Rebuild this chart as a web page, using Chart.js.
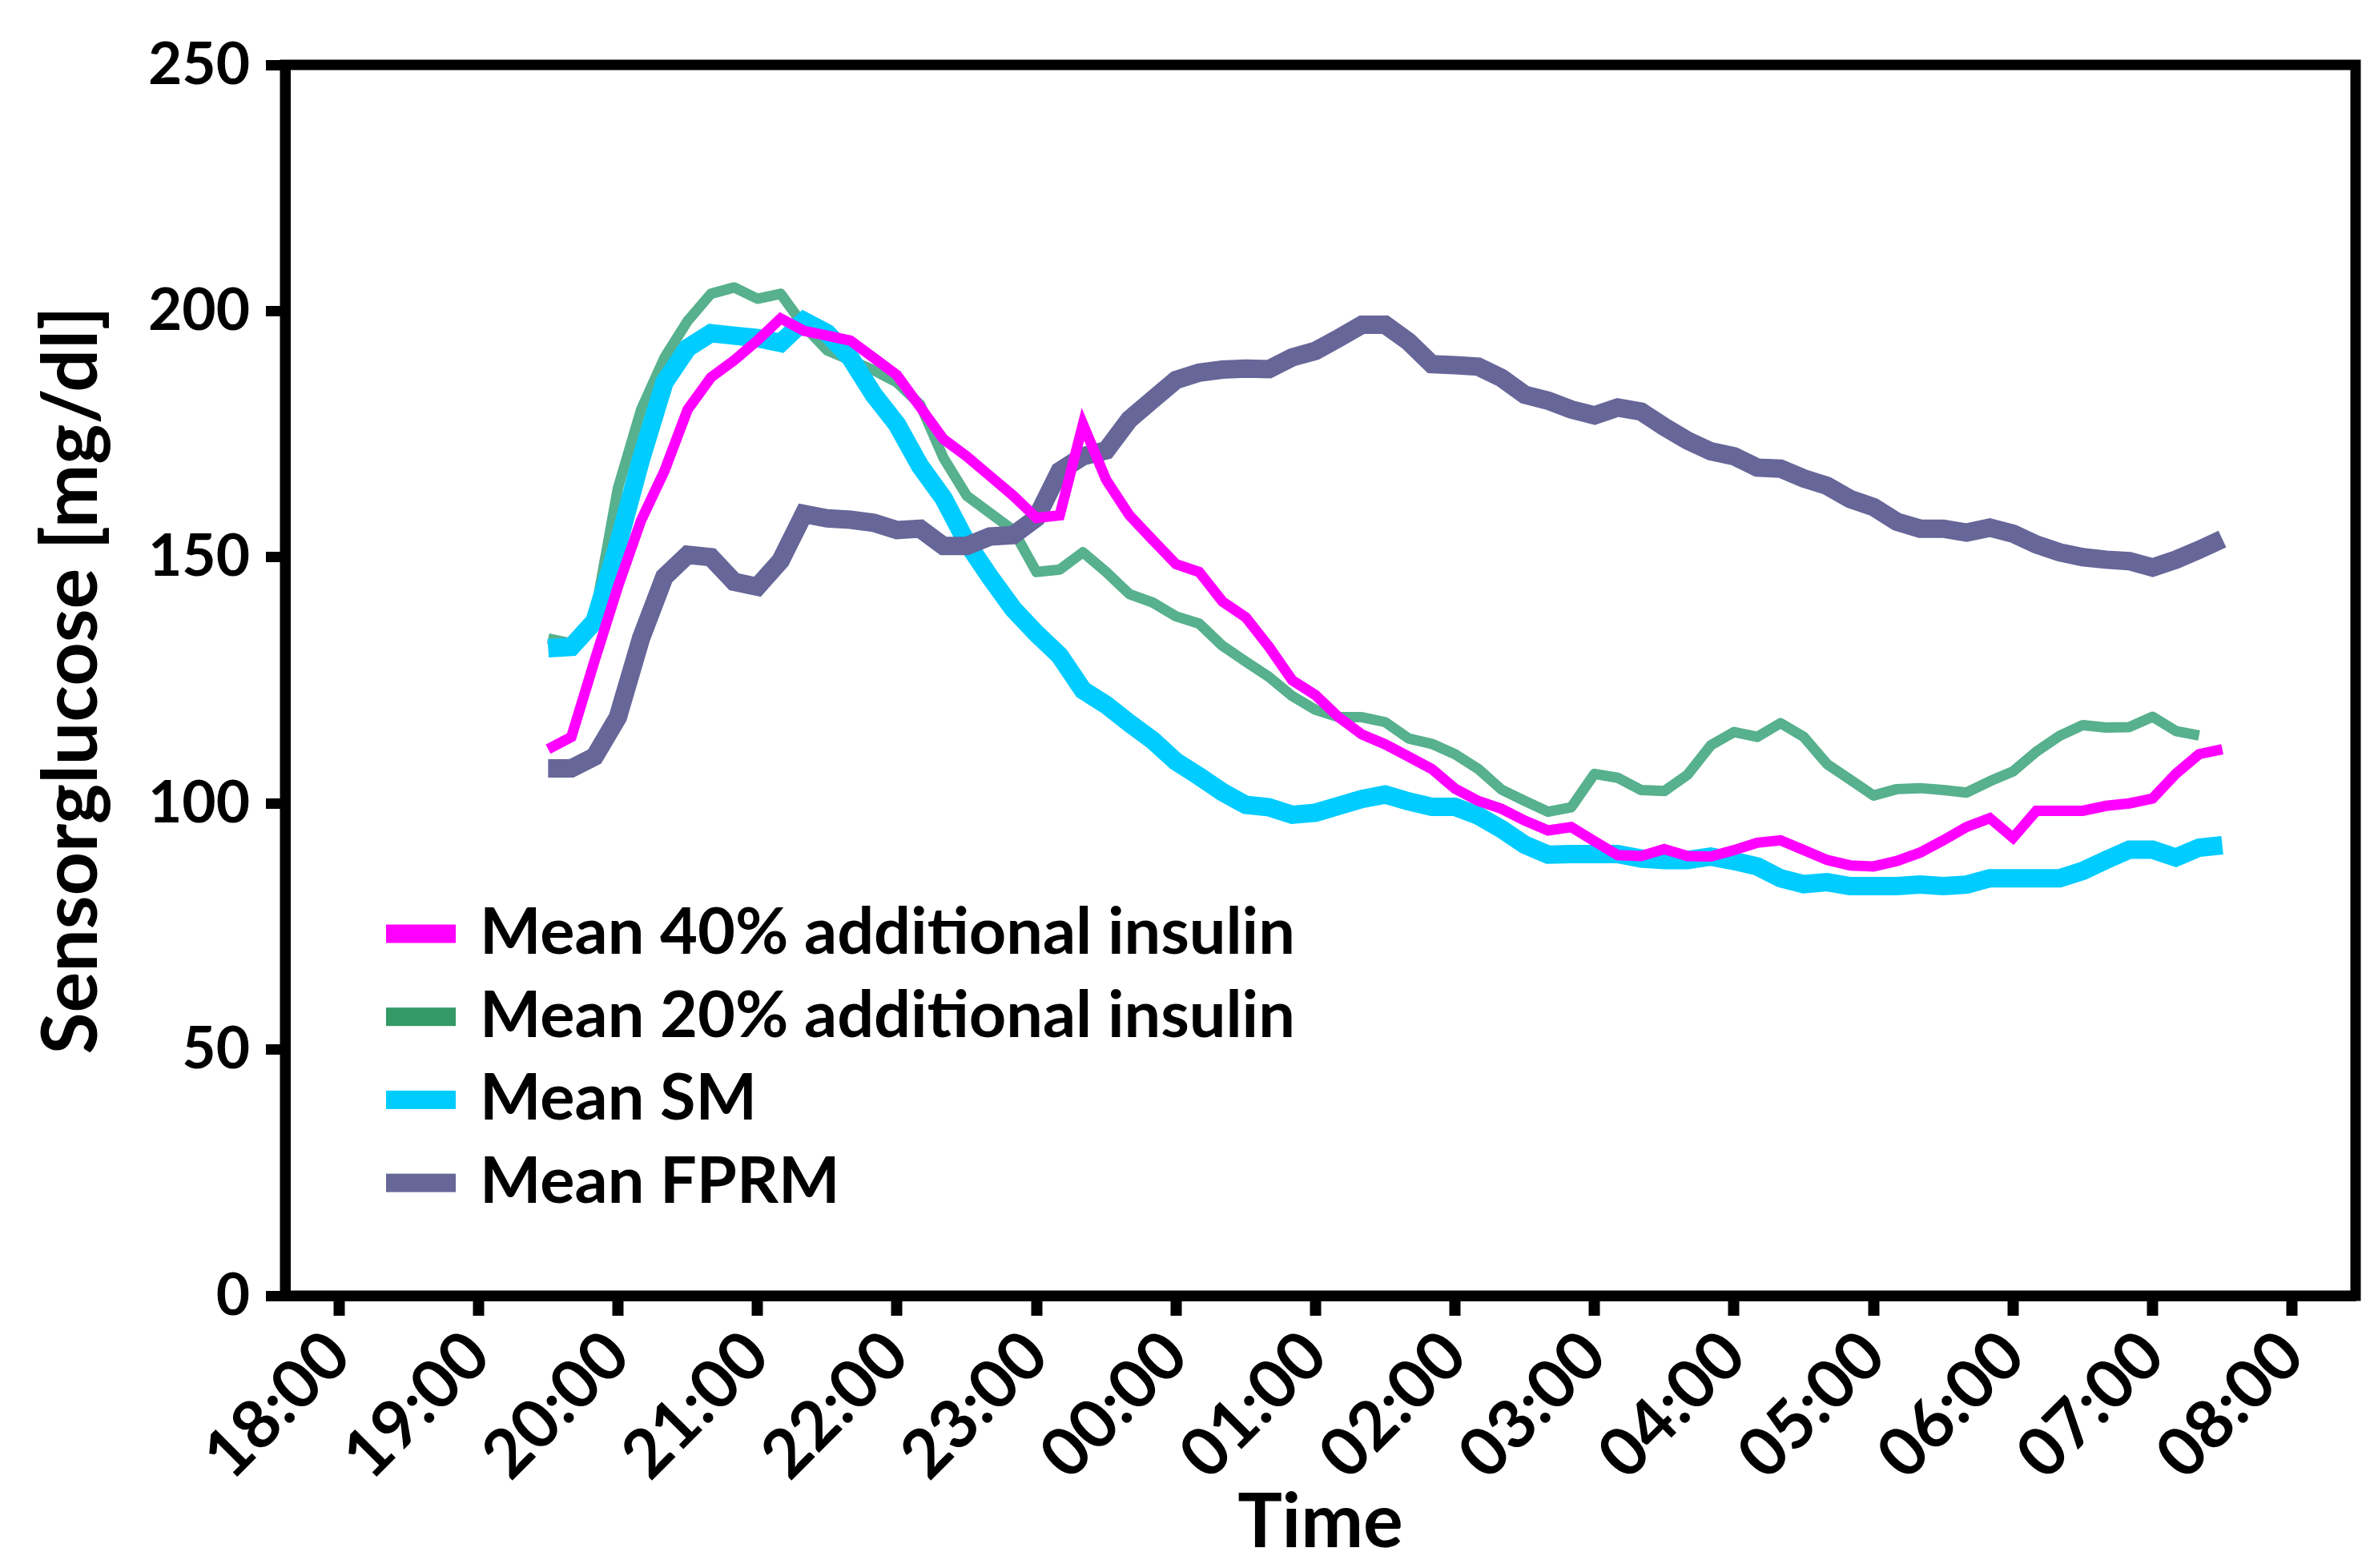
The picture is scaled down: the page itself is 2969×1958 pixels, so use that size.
<!DOCTYPE html>
<html>
<head>
<meta charset="utf-8">
<title>Sensorglucose</title>
<script src="https://cdn.jsdelivr.net/npm/chart.js@4.4.0/dist/chart.umd.min.js"></script>
<style>
  html, body { margin: 0; padding: 0; background: #fff; }
  #chart { display: block; }
</style>
</head>
<body>
<canvas id="chart" width="2969" height="1958"></canvas>
<script>
// sample times, every 10 minutes from 19:30 to 07:30
const times = [
  '19:30', '19:40', '19:50', '20:00', '20:10', '20:20', '20:30', '20:40', '20:50',
  '21:00', '21:10', '21:20', '21:30', '21:40', '21:50', '22:00', '22:10', '22:20',
  '22:30', '22:40', '22:50', '23:00', '23:10', '23:20', '23:30', '23:40', '23:50',
  '00:00', '00:10', '00:20', '00:30', '00:40', '00:50', '01:00', '01:10', '01:20',
  '01:30', '01:40', '01:50', '02:00', '02:10', '02:20', '02:30', '02:40', '02:50',
  '03:00', '03:10', '03:20', '03:30', '03:40', '03:50', '04:00', '04:10', '04:20',
  '04:30', '04:40', '04:50', '05:00', '05:10', '05:20', '05:30', '05:40', '05:50',
  '06:00', '06:10', '06:20', '06:30', '06:40', '06:50', '07:00', '07:10', '07:20', '07:30'
];

const mean40 = [
  111, 113.5, 129, 144, 157.5, 167.5, 180, 186.5, 190,
  194, 198.5, 196, 195, 194, 190.5, 187, 180.5, 174,
  170.5, 166.5, 162.5, 158, 158.5, 177, 165.7, 158.5, 153.5,
  148.6, 147, 141, 137.8, 131.8, 125, 122, 117.5, 114,
  112, 109.5, 107, 103, 100.5, 98.9, 96.5, 94.5, 95.2,
  92.3, 89.5, 89.3, 90.7, 89.3, 89.2, 90.5, 92, 92.5,
  90.5, 88.5, 87.4, 87.2, 88.3, 90, 92.5, 95.2, 97,
  93, 98.5, 98.5, 98.5, 99.5, 100, 101, 106, 110, 111
];

const mean20 = [
  133.5, 132.5, 138, 164, 180, 190.5, 198, 203.5, 204.8,
  202.5, 203.5, 197, 192, 190, 188, 185.5, 181, 170.2,
  162.5, 159, 155.5, 147, 147.5, 151, 147, 142.5, 140.8,
  138, 136.5, 132, 128.8, 125.7, 121.8, 119, 117.5, 117.5,
  116.5, 113.2, 112.1, 110, 107, 102.8, 100.5, 98.3, 99.2,
  106, 105.2, 102.7, 102.5, 105.8, 111.8, 114.5, 113.5, 116.3,
  113.5, 108, 104.8, 101.6, 102.9, 103.1, 102.7, 102.2, 104.5,
  106.5, 110.5, 113.7, 115.9, 115.4, 115.5, 117.6, 114.7, 113.8, null
];

const meanSM = [
  131.5, 131.8, 137, 152.5, 170, 185.5, 192.5, 195.5, 195,
  194.5, 193.5, 198, 195.5, 190.5, 183, 177, 168.5, 162,
  153, 146, 139.5, 134.5, 130, 123, 120, 116.3, 112.8,
  108.5, 105.5, 102.3, 99.7, 99.2, 97.7, 98.1, 99.5, 100.9,
  101.8, 100.4, 99.3, 99.3, 97.5, 94.8, 91.6, 89.6, 89.7,
  89.7, 89.7, 88.8, 88.5, 88.5, 89.2, 88.3, 87.2, 84.8,
  83.6, 84, 83.2, 83.2, 83.2, 83.5, 83.2, 83.5, 84.8,
  84.8, 84.8, 84.8, 86.3, 88.5, 90.6, 90.6, 89, 91, 91.5
];

const meanFPRM = [
  107.1, 107.1, 109.5, 117.5, 133.6, 146, 150.5, 150, 145,
  144, 149.3, 158.8, 157.9, 157.6, 157, 155.5, 155.8, 152.3,
  152.3, 154.2, 154.5, 158, 167.5, 170.5, 171.7, 178, 182,
  186, 187.5, 188.1, 188.3, 188.2, 190.6, 191.9, 194.5, 197.2,
  197.2, 193.8, 189.2, 189, 188.7, 186.4, 183, 181.8, 180,
  178.8, 180.4, 179.6, 176.5, 173.7, 171.5, 170.5, 168.2, 168,
  166, 164.5, 161.8, 160.2, 157.2, 155.8, 155.8, 155, 156,
  154.8, 152.6, 151, 150, 149.5, 149.2, 147.9, 149.5, 151.5, 153.7
];

const seriesLabels = [
  'Mean 40% additional insulin',
  'Mean 20% additional insulin',
  'Mean SM',
  'Mean FPRM'
];

const xTickLabels = ['18:00', '19:00', '20:00', '21:00', '22:00', '23:00', '00:00',
  '01:00', '02:00', '03:00', '04:00', '05:00', '06:00', '07:00', '08:00'];
const yTicks = [0, 50, 100, 150, 200, 250];

// hours after 18:00, running past midnight
function hoursFrom18(label) {
  const parts = label.split(':');
  let h = parseInt(parts[0], 10) + parseInt(parts[1], 10) / 60;
  if (h < 12) h += 24;
  return h - 18;
}

function toPoints(values) {
  return values.map((v, i) => ({ x: hoursFrom18(times[i]), y: v }));
}

const FONT = 'Lato, "Open Sans", sans-serif';

// box around the plot area
const frame = {
  id: 'frame',
  afterDatasetsDraw(chart) {
    const a = chart.chartArea;
    const ctx = chart.ctx;
    ctx.save();
    ctx.strokeStyle = '#000';
    ctx.lineWidth = 13;
    ctx.lineJoin = 'miter';
    ctx.strokeRect(a.left, a.top, a.right - a.left, a.bottom - a.top);
    ctx.restore();
  }
};

// legend drawn inside the plot, bottom left
const innerLegend = {
  id: 'innerLegend',
  afterDraw(chart) {
    const ctx = chart.ctx;
    ctx.save();
    ctx.font = 'bold 81px ' + FONT;
    ctx.textBaseline = 'alphabetic';
    ctx.textAlign = 'left';
    chart.data.datasets.forEach((ds, i) => {
      const cy = 1166 + i * 103.7;
      ctx.fillStyle = ds.legendColor || ds.borderColor;
      ctx.fillRect(482, cy - 11.5, 87, 23);
      ctx.fillStyle = '#000';
      ctx.fillText(ds.label, 599, cy + 25);
    });
    ctx.restore();
  }
};

const ctx = document.getElementById('chart').getContext('2d');
new Chart(ctx, {
  type: 'line',
  data: {
    datasets: [
      {
        label: seriesLabels[0],
        data: toPoints(mean40),
        borderColor: '#FF00FF',
        borderWidth: 13,
        order: 0
      },
      {
        label: seriesLabels[1],
        data: toPoints(mean20),
        borderColor: '#57B08E',
        legendColor: '#339966',
        borderWidth: 13,
        borderJoinStyle: 'round',
        order: 3
      },
      {
        label: seriesLabels[2],
        data: toPoints(meanSM),
        borderColor: '#00CCFF',
        borderWidth: 23,
        order: 2
      },
      {
        label: seriesLabels[3],
        data: toPoints(meanFPRM),
        borderColor: '#666699',
        borderWidth: 23,
        order: 1
      }
    ]
  },
  options: {
    responsive: false,
    animation: false,
    devicePixelRatio: 1,
    layout: { padding: { left: 0, top: 81, right: 28, bottom: 0 } },
    elements: {
      point: { radius: 0 },
      line: { tension: 0, borderJoinStyle: 'miter', borderCapStyle: 'butt', fill: false }
    },
    plugins: {
      legend: { display: false },
      tooltip: { enabled: false }
    },
    scales: {
      x: {
        type: 'linear',
        min: -0.385,
        max: 14.455,
        afterFit(scale) { scale.height = 340; },
        afterBuildTicks(scale) {
          scale.ticks = xTickLabels.map(l => ({ value: hoursFrom18(l) }));
        },
        ticks: {
          autoSkip: false,
          minRotation: 45,
          maxRotation: 45,
          padding: 0,
          color: '#000',
          font: { family: FONT, size: 84, weight: 'bold' },
          callback(value) {
            const h = Math.round((18 + value) % 24);
            return (h < 10 ? '0' : '') + h + ':00';
          }
        },
        grid: {
          display: true,
          drawOnChartArea: false,
          drawTicks: true,
          tickLength: 25,
          tickWidth: 14,
          tickColor: '#000'
        },
        border: { display: true, color: '#000', width: 13 },
        title: {
          display: true,
          text: 'Time',
          color: '#000',
          font: { family: FONT, size: 93, weight: 'bold' },
          padding: { top: 0, bottom: 0 }
        }
      },
      y: {
        min: 0,
        max: 250,
        afterFit(scale) { scale.width = 356; },
        afterBuildTicks(scale) {
          scale.ticks = yTicks.map(v => ({ value: v }));
        },
        ticks: {
          padding: 20,
          color: '#000',
          font: { family: FONT, size: 73, weight: 'bold' }
        },
        grid: {
          display: true,
          drawOnChartArea: false,
          drawTicks: true,
          tickLength: 24,
          tickWidth: 13,
          tickColor: '#000'
        },
        border: { display: true, color: '#000', width: 13 },
        title: {
          display: true,
          text: 'Sensorglucose [mg/dl]',
          color: '#000',
          font: { family: FONT, size: 95, weight: 'bold' },
          padding: { top: 33, bottom: 0 }
        }
      }
    }
  },
  plugins: [frame, innerLegend]
});
</script>
</body>
</html>
